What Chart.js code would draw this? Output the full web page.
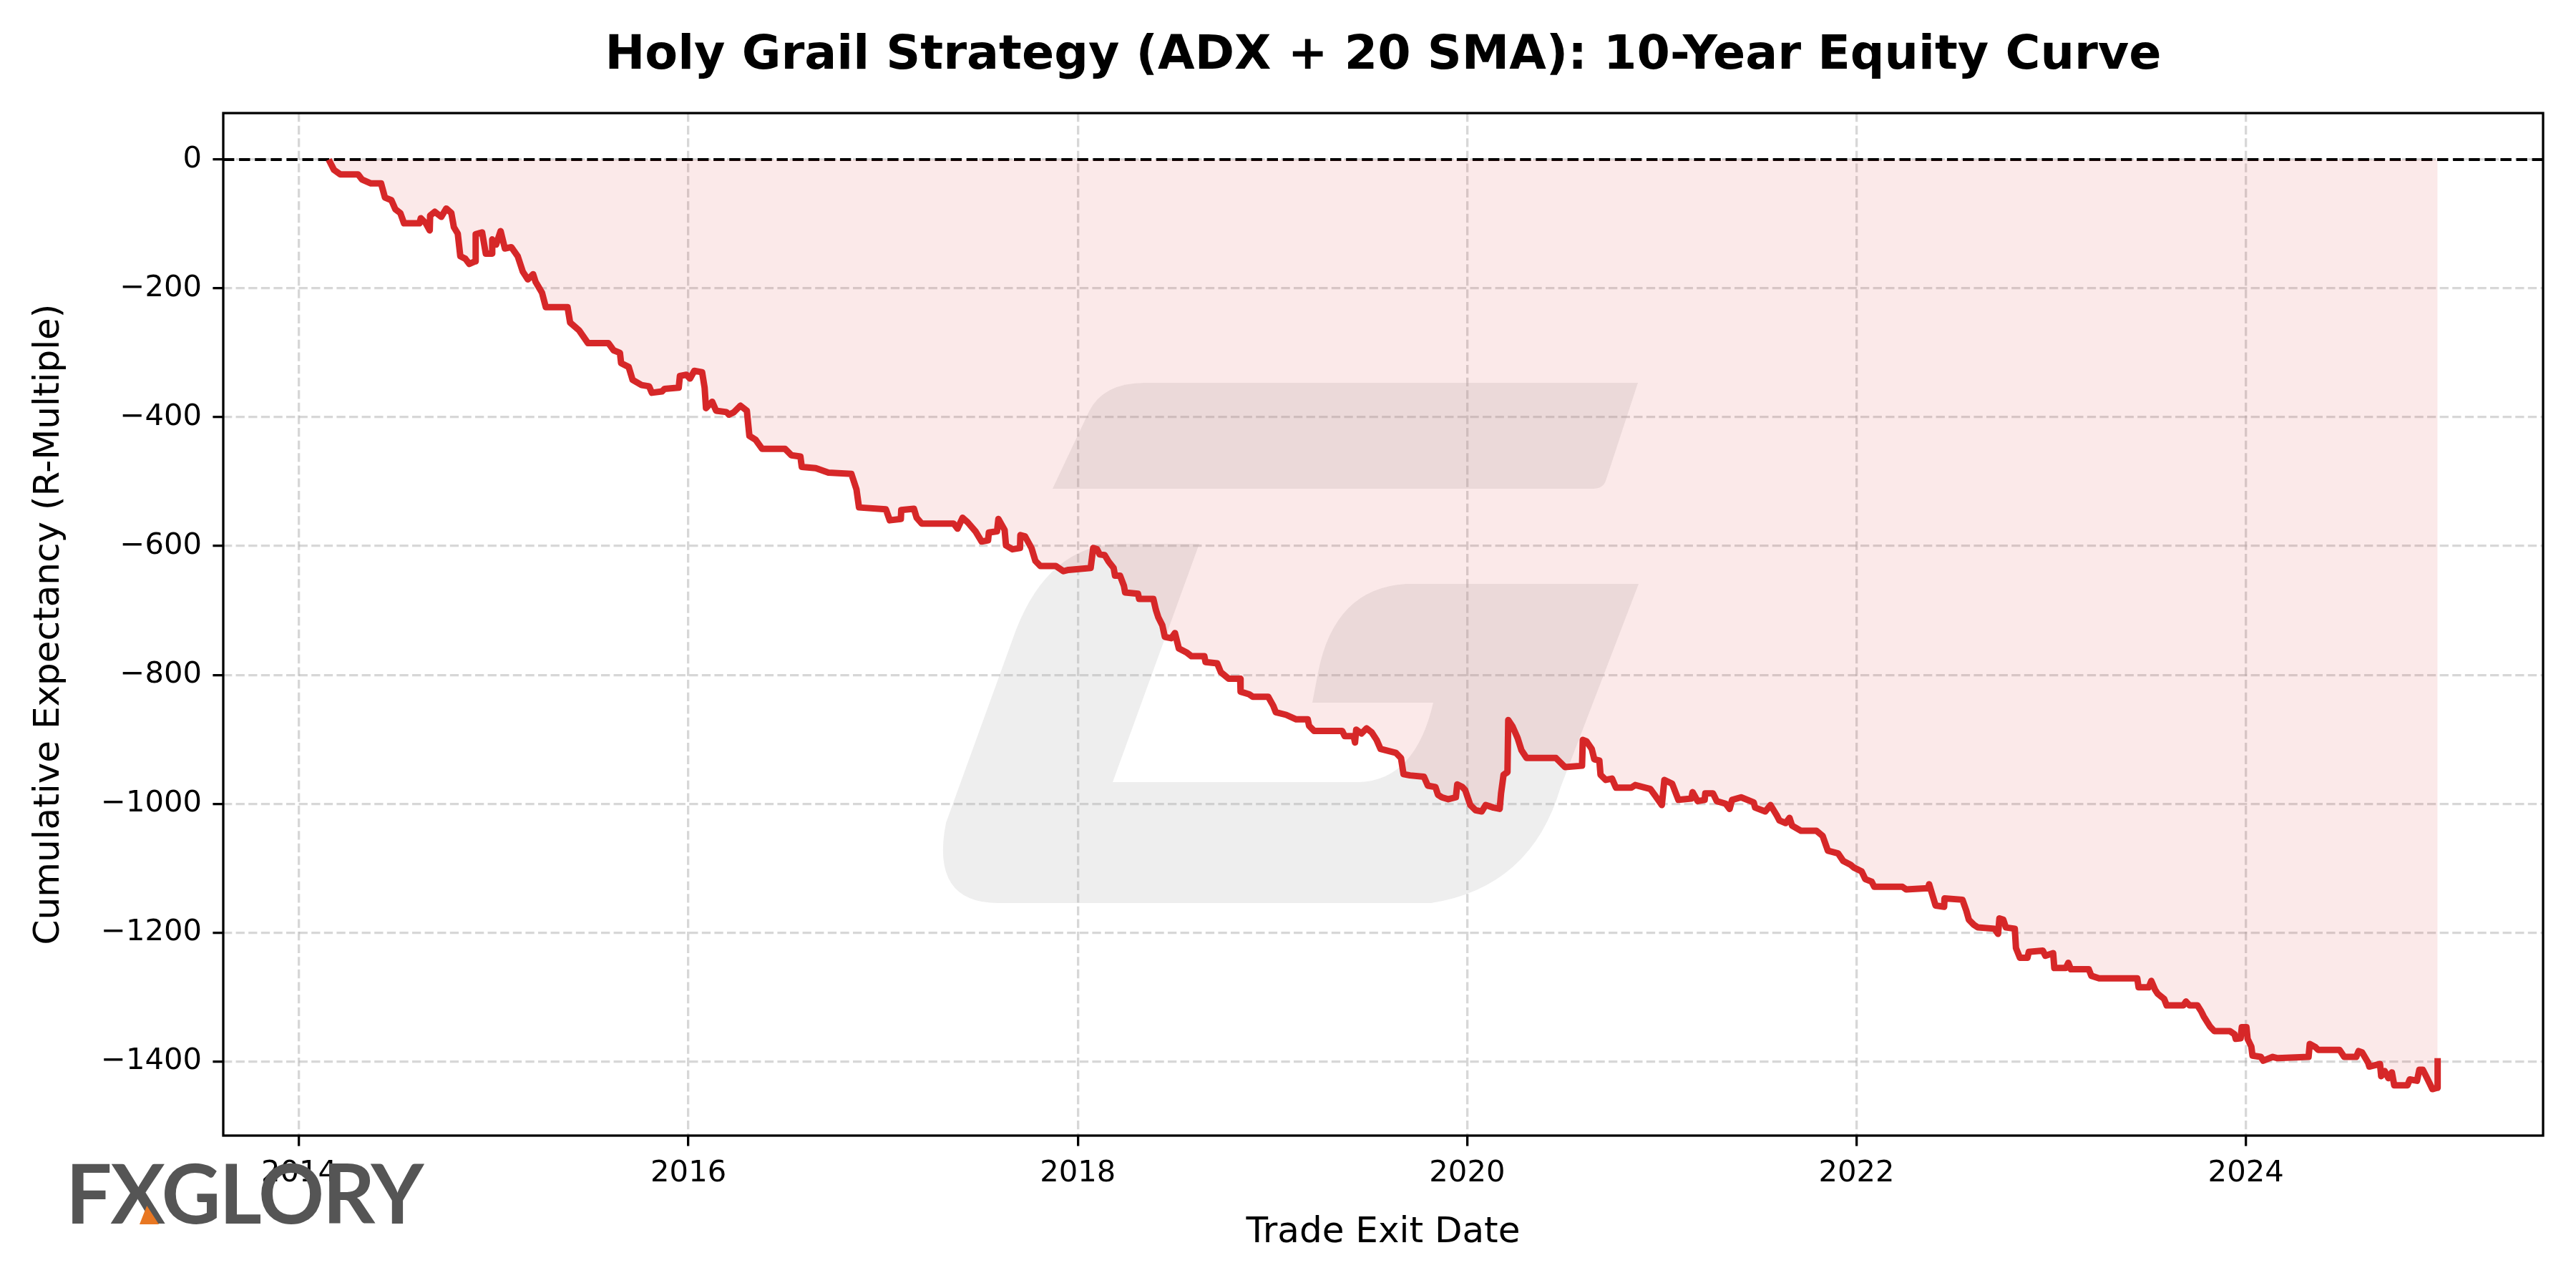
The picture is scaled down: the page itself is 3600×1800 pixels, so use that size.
<!DOCTYPE html>
<html>
<head>
<meta charset="utf-8">
<title>Holy Grail Strategy (ADX + 20 SMA): 10-Year Equity Curve</title>
<script src="https://cdn.jsdelivr.net/npm/chart.js@4.4.1/dist/chart.umd.min.js"></script>
<style>
    html, body { margin: 0; padding: 0; background: #ffffff; }
    #wrap { position: relative; width: 3600px; height: 1800px; }
    #logo {
        position: absolute; left: 92px; top: 1609px;
        font-family: Lato, 'DejaVu Sans', sans-serif; font-weight: 700;
        font-size: 114px; line-height: 1; color: #555555;
        letter-spacing: -2px; white-space: nowrap;
    }
    #logo .tri {
        position: absolute; left: 103px; top: 76px; width: 27px; height: 26px;
        background: #e87722; clip-path: polygon(38% 0, 100% 100%, 0 100%);
    }
</style>
</head>
<body>
<div id="wrap">
    <canvas id="grafico_equity"></canvas>
    <div id="logo">FXGLORY<span class="tri"></span></div>
</div>
<script>
// trade exit dates as decimal years
const exitYears = [
    2014.152, 2014.179, 2014.212, 2014.303, 2014.323, 2014.369, 2014.421, 2014.441, 2014.474, 2014.494,
    2014.520, 2014.539, 2014.618, 2014.625, 2014.651, 2014.671, 2014.673, 2014.697, 2014.730, 2014.756,
    2014.782, 2014.795, 2014.815, 2014.828, 2014.854, 2014.874, 2014.905, 2014.907, 2014.940, 2014.959,
    2014.990, 2014.992, 2015.012, 2015.035, 2015.057, 2015.090, 2015.123, 2015.149, 2015.175, 2015.202,
    2015.215, 2015.248, 2015.267, 2015.379, 2015.392, 2015.438, 2015.484, 2015.589, 2015.615, 2015.648,
    2015.654, 2015.693, 2015.713, 2015.759, 2015.798, 2015.812, 2015.864, 2015.877, 2015.950, 2015.956,
    2015.989, 2016.008, 2016.030, 2016.070, 2016.083, 2016.090, 2016.122, 2016.142, 2016.195, 2016.208,
    2016.234, 2016.267, 2016.300, 2016.313, 2016.345, 2016.378, 2016.496, 2016.529, 2016.575, 2016.582,
    2016.654, 2016.719, 2016.837, 2016.863, 2016.876, 2017.014, 2017.034, 2017.091, 2017.093, 2017.158,
    2017.172, 2017.198, 2017.362, 2017.382, 2017.408, 2017.434, 2017.474, 2017.506, 2017.539, 2017.543,
    2017.585, 2017.592, 2017.624, 2017.631, 2017.664, 2017.703, 2017.705, 2017.729, 2017.762, 2017.782,
    2017.808, 2017.887, 2017.926, 2017.952, 2018.066, 2018.079, 2018.099, 2018.112, 2018.138, 2018.158,
    2018.184, 2018.191, 2018.217, 2018.237, 2018.243, 2018.309, 2018.315, 2018.388, 2018.401, 2018.414,
    2018.434, 2018.447, 2018.480, 2018.499, 2018.519, 2018.558, 2018.584, 2018.650, 2018.656, 2018.716,
    2018.735, 2018.775, 2018.834, 2018.836, 2018.880, 2018.899, 2018.978, 2019.004, 2019.017, 2019.070,
    2019.122, 2019.181, 2019.188, 2019.214, 2019.358, 2019.371, 2019.417, 2019.424, 2019.430, 2019.457,
    2019.483, 2019.509, 2019.535, 2019.555, 2019.634, 2019.660, 2019.673, 2019.706, 2019.778, 2019.798,
    2019.837, 2019.850, 2019.870, 2019.903, 2019.942, 2019.949, 2019.975, 2019.990, 2020.016, 2020.043,
    2020.075, 2020.095, 2020.135, 2020.167, 2020.174, 2020.187, 2020.207, 2020.211, 2020.233, 2020.259,
    2020.279, 2020.305, 2020.456, 2020.502, 2020.590, 2020.594, 2020.613, 2020.640, 2020.653, 2020.679,
    2020.685, 2020.712, 2020.744, 2020.764, 2020.843, 2020.863, 2020.941, 2020.967, 2021.000, 2021.013,
    2021.053, 2021.085, 2021.151, 2021.158, 2021.184, 2021.220, 2021.223, 2021.263, 2021.282, 2021.328,
    2021.348, 2021.361, 2021.407, 2021.472, 2021.479, 2021.531, 2021.558, 2021.590, 2021.604, 2021.636,
    2021.656, 2021.669, 2021.715, 2021.794, 2021.826, 2021.853, 2021.905, 2021.932, 2021.971, 2021.986,
    2022.026, 2022.045, 2022.078, 2022.091, 2022.236, 2022.255, 2022.367, 2022.373, 2022.393, 2022.406,
    2022.450, 2022.452, 2022.544, 2022.564, 2022.577, 2022.603, 2022.623, 2022.708, 2022.727, 2022.734,
    2022.754, 2022.767, 2022.813, 2022.819, 2022.839, 2022.878, 2022.885, 2022.957, 2022.970, 2023.010,
    2023.016, 2023.075, 2023.088, 2023.101, 2023.193, 2023.206, 2023.246, 2023.442, 2023.449, 2023.501,
    2023.514, 2023.534, 2023.547, 2023.580, 2023.593, 2023.679, 2023.692, 2023.711, 2023.751, 2023.770,
    2023.783, 2023.816, 2023.838, 2023.918, 2023.942, 2023.948, 2023.973, 2023.979, 2024.003, 2024.009,
    2024.028, 2024.034, 2024.077, 2024.089, 2024.138, 2024.163, 2024.322, 2024.328, 2024.358, 2024.371,
    2024.481, 2024.505, 2024.567, 2024.579, 2024.597, 2024.628, 2024.634, 2024.689, 2024.695, 2024.713,
    2024.732, 2024.750, 2024.762, 2024.830, 2024.842, 2024.879, 2024.891, 2024.909, 2024.934, 2024.958,
    2024.983, 2024.985
];

// cumulative expectancy in R-multiples, same order
const cumulativeR = [
    0, -16, -23, -23, -31, -37, -37, -59, -63, -77,
    -83, -99, -99, -91, -99, -110, -87, -81, -89, -76,
    -83, -105, -115, -150, -154, -162, -158, -116, -113, -146,
    -146, -124, -132, -111, -138, -136, -150, -174, -186, -178,
    -190, -207, -229, -229, -253, -265, -285, -285, -296, -300,
    -316, -322, -342, -350, -352, -362, -360, -356, -354, -336,
    -334, -340, -328, -330, -354, -386, -376, -390, -392, -396,
    -392, -382, -390, -429, -435, -449, -449, -459, -461, -477,
    -479, -486, -488, -512, -540, -543, -560, -558, -544, -542,
    -556, -565, -565, -573, -556, -563, -577, -593, -591, -579,
    -577, -558, -575, -599, -605, -603, -583, -585, -603, -623,
    -631, -631, -639, -637, -634, -603, -605, -613, -614, -624,
    -634, -646, -646, -662, -672, -674, -682, -682, -699, -711,
    -723, -741, -743, -735, -759, -765, -771, -771, -780, -782,
    -796, -806, -806, -826, -830, -834, -834, -848, -858, -862,
    -869, -869, -879, -887, -887, -895, -895, -905, -885, -891,
    -883, -889, -901, -915, -921, -929, -954, -956, -958, -972,
    -974, -986, -990, -993, -990, -970, -974, -979, -1002, -1010,
    -1012, -1002, -1006, -1008, -984, -955, -951, -870, -880, -898,
    -917, -929, -929, -943, -941, -901, -903, -915, -931, -933,
    -955, -963, -961, -975, -975, -971, -977, -988, -1002, -963,
    -969, -994, -992, -982, -996, -994, -984, -984, -996, -1000,
    -1008, -994, -990, -998, -1006, -1012, -1002, -1018, -1026, -1030,
    -1022, -1034, -1042, -1042, -1050, -1073, -1077, -1089, -1095, -1099,
    -1105, -1117, -1121, -1129, -1129, -1133, -1131, -1125, -1145, -1158,
    -1160, -1147, -1149, -1166, -1180, -1188, -1192, -1194, -1202, -1178,
    -1180, -1192, -1194, -1224, -1239, -1239, -1230, -1228, -1236, -1232,
    -1255, -1255, -1247, -1257, -1257, -1267, -1271, -1271, -1285, -1285,
    -1275, -1289, -1295, -1303, -1313, -1313, -1307, -1313, -1313, -1322,
    -1330, -1346, -1353, -1353, -1358, -1365, -1364, -1347, -1347, -1365,
    -1377, -1391, -1393, -1399, -1393, -1395, -1393, -1373, -1378, -1382,
    -1382, -1393, -1393, -1384, -1386, -1402, -1408, -1404, -1423, -1415,
    -1426, -1417, -1437, -1437, -1428, -1430, -1413, -1413, -1428, -1443,
    -1441, -1395
];

// tick values on each axis
const xTickYears = [2014, 2016, 2018, 2020, 2022, 2024];
const yTickValues = [0, -200, -400, -600, -800, -1000, -1200, -1400];

document.addEventListener('DOMContentLoaded', function () {
    // matplotlib style auto limits: data range plus 5% each side
    const xLo = Math.min(...exitYears), xHi = Math.max(...exitYears);
    const yLo = Math.min(0, ...cumulativeR), yHi = Math.max(0, ...cumulativeR);
    const xMin = xLo - (xHi - xLo) * 0.05, xMax = xHi + (xHi - xLo) * 0.05;
    const yMin = yLo - (yHi - yLo) * 0.05, yMax = yHi + (yHi - yLo) * 0.05;

    const equityPoints = exitYears.map((yr, i) => ({ x: yr, y: cumulativeR[i] }));

    const tickFont = { family: 'DejaVu Sans', size: 41.7 };
    const gridColor = 'rgba(176,176,176,0.5)';

    // white background and the faded logo mark behind the grid
    const watermark = {
        id: 'watermark',
        beforeDraw(chart) {
            const ctx = chart.ctx;
            ctx.save();
            ctx.fillStyle = '#ffffff';
            ctx.fillRect(0, 0, chart.width, chart.height);
            ctx.fillStyle = '#eeeeee';
            // top bar
            ctx.beginPath();
            ctx.moveTo(1471, 683);
            ctx.lineTo(1522, 575);
            ctx.quadraticCurveTo(1542, 535, 1600, 535);
            ctx.lineTo(2289, 535);
            ctx.lineTo(2244, 672);
            ctx.quadraticCurveTo(2240, 683, 2226, 683);
            ctx.closePath();
            ctx.fill();
            // G body
            ctx.beginPath();
            ctx.moveTo(1676, 760);
            ctx.lineTo(1560, 760);
            ctx.quadraticCurveTo(1465, 765, 1420, 880);
            ctx.lineTo(1322, 1150);
            ctx.quadraticCurveTo(1300, 1262, 1395, 1262);
            ctx.lineTo(2000, 1262);
            ctx.quadraticCurveTo(2140, 1240, 2181, 1100);
            ctx.lineTo(2290, 816);
            ctx.lineTo(1965, 816);
            ctx.quadraticCurveTo(1865, 822, 1842, 940);
            ctx.lineTo(1834, 982);
            ctx.lineTo(2003, 982);
            ctx.quadraticCurveTo(1978, 1090, 1900, 1093);
            ctx.lineTo(1555, 1093);
            ctx.closePath();
            ctx.fill();
            ctx.restore();
        }
    };

    // four spines like matplotlib
    const frame = {
        id: 'frame',
        afterDatasetsDraw(chart) {
            const { ctx, chartArea: a } = chart;
            ctx.save();
            ctx.strokeStyle = '#000000';
            ctx.lineWidth = 3.3;
            ctx.strokeRect(a.left, a.top, a.right - a.left, a.bottom - a.top);
            ctx.restore();
        }
    };

    const ctx = document.getElementById('grafico_equity').getContext('2d');
    new Chart(ctx, {
        type: 'line',
        data: {
            datasets: [{
                label: 'Cumulative Expectancy',
                data: equityPoints,
                borderColor: '#d62728',
                borderWidth: 9,
                borderJoinStyle: 'round',
                backgroundColor: 'rgba(214,39,40,0.1)',
                fill: 'origin',
                pointRadius: 0,
                tension: 0
            }, {
                label: 'Zero',
                data: [{ x: xMin, y: 0 }, { x: xMax, y: 0 }],
                borderColor: '#000000',
                borderWidth: 4.2,
                borderDash: [15.4, 6.7],
                fill: false,
                pointRadius: 0
            }]
        },
        options: {
            responsive: true,
            maintainAspectRatio: false,
            devicePixelRatio: 1,
            animation: false,
            events: [],
            layout: { padding: { left: 0, right: 46, top: 0, bottom: 0 } },
            plugins: {
                legend: { display: false },
                tooltip: { enabled: false },
                title: {
                    display: true,
                    fullSize: false,
                    text: 'Holy Grail Strategy (ADX + 20 SMA): 10-Year Equity Curve',
                    color: '#000000',
                    font: { family: 'DejaVu Sans', size: 66.7, weight: 'bold' },
                    padding: { top: 39, bottom: 39 }
                }
            },
            scales: {
                x: {
                    type: 'linear',
                    min: xMin,
                    max: xMax,
                    bounds: 'data',
                    afterBuildTicks: function (scale) {
                        scale.ticks = xTickYears.map(v => ({ value: v }));
                    },
                    afterFit: function (scale) { scale.height = 213; },
                    ticks: {
                        autoSkip: false,
                        maxRotation: 0,
                        padding: 14,
                        color: '#000000',
                        font: tickFont,
                        callback: v => String(v)
                    },
                    grid: {
                        color: gridColor,
                        lineWidth: 3.3,
                        tickLength: 14.6,
                        tickWidth: 3.3,
                        tickColor: '#000000'
                    },
                    border: { display: false, dash: [12.3, 5.3] },
                    title: {
                        display: true,
                        text: 'Trade Exit Date',
                        color: '#000000',
                        font: { family: 'DejaVu Sans', size: 50 },
                        padding: { top: 0, bottom: 47 }
                    }
                },
                y: {
                    type: 'linear',
                    min: yMin,
                    max: yMax,
                    bounds: 'data',
                    afterBuildTicks: function (scale) {
                        scale.ticks = yTickValues.map(v => ({ value: v }));
                    },
                    afterFit: function (scale) { scale.width = 312; },
                    ticks: {
                        padding: 15.4,
                        color: '#000000',
                        font: tickFont,
                        callback: v => v < 0 ? '\u2212' + Math.abs(v) : String(v)
                    },
                    grid: {
                        color: gridColor,
                        lineWidth: 3.3,
                        tickLength: 14.6,
                        tickWidth: 3.3,
                        tickColor: '#000000'
                    },
                    border: { display: false, dash: [12.3, 5.3] },
                    title: {
                        display: true,
                        text: 'Cumulative Expectancy (R-Multiple)',
                        color: '#000000',
                        font: { family: 'DejaVu Sans', size: 50 },
                        padding: { top: 39, bottom: 0 }
                    }
                }
            }
        },
        plugins: [watermark, frame]
    });
});
</script>
</body>
</html>
